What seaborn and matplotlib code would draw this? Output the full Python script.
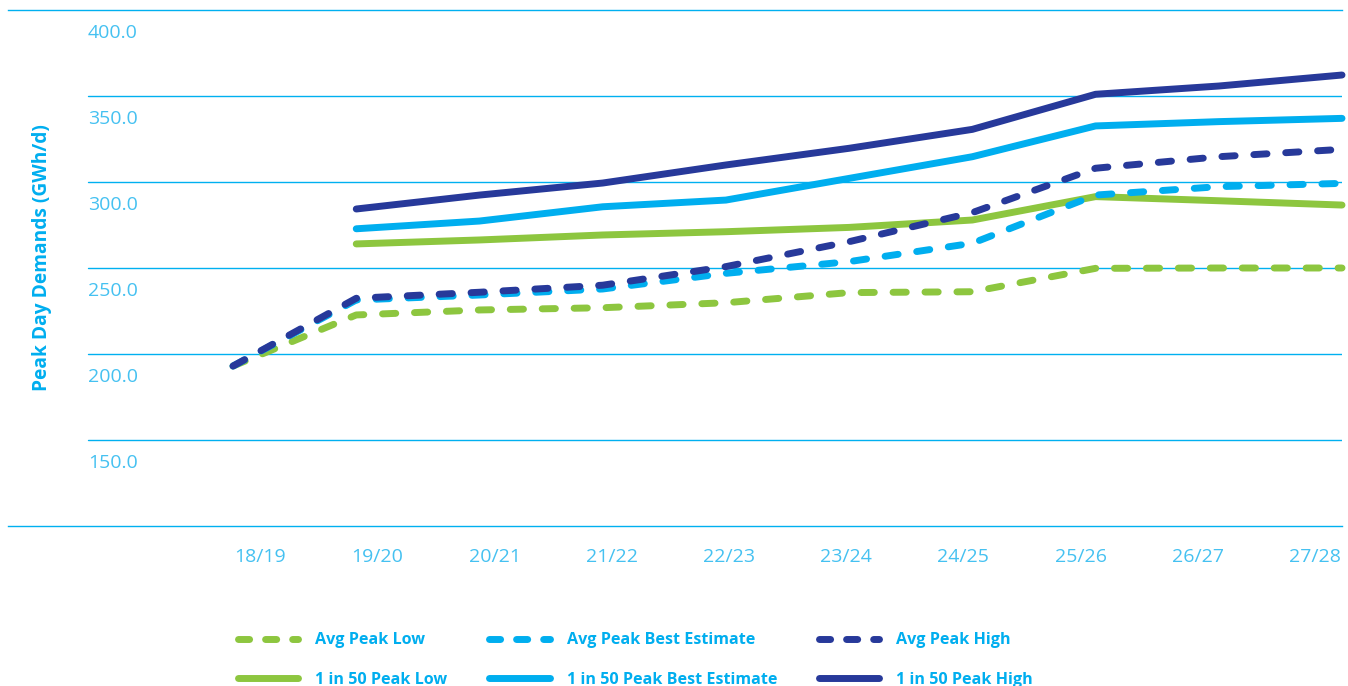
import matplotlib
matplotlib.use("Agg")
import matplotlib.pyplot as plt
import matplotlib.transforms as mtransforms
from matplotlib.lines import Line2D
import seaborn as sns
import numpy as np
import pandas as pd

# data (GWh/d)
years = ["18/19", "19/20", "20/21", "21/22", "22/23", "23/24", "24/25", "25/26", "26/27", "27/28"]
avg_low = [193.0, 222.7, 225.6, 226.9, 229.8, 235.7, 236.2, 249.8, 250.0, 250.0]
avg_best = [193.0, 231.4, 234.3, 237.8, 246.9, 253.7, 264.4, 292.4, 297.3, 299.2]
avg_high = [193.0, 232.4, 235.9, 240.0, 250.8, 265.3, 282.2, 308.0, 314.7, 319.0]
p50_low = [np.nan, 264.0, 266.3, 269.2, 271.1, 273.6, 277.9, 291.5, 289.1, 286.6]
p50_best = [np.nan, 272.8, 277.3, 285.6, 289.5, 302.1, 314.7, 332.6, 335.1, 337.0]
p50_high = [np.nan, 284.3, 292.4, 299.4, 309.9, 319.6, 330.6, 351.0, 355.8, 362.2]

y_ticks = [150, 200, 250, 300, 350, 400]
y_labels = ["150.0", "200.0", "250.0", "300.0", "350.0", "400.0"]

GREEN = "#8DC63F"
LBLUE = "#00AEEF"
NAVY = "#27399A"
GRID = "#00B0F0"
TICK = "#45C1F1"

sns.set_style("white")
plt.rcParams["font.family"] = ["Open Sans", "DejaVu Sans"]

W, H = 1348, 686
fig = plt.figure(figsize=(W / 100, H / 100), dpi=100)
ax = fig.add_axes([8 / W, (H - 526) / H, (1342 - 8) / W, (526 - 10) / H])

# solid series first, dashed on top
series = [
    ("1 in 50 Peak Low", p50_low, GREEN, "-"),
    ("1 in 50 Peak Best Estimate", p50_best, LBLUE, "-"),
    ("1 in 50 Peak High", p50_high, NAVY, "-"),
    ("Avg Peak Low", avg_low, GREEN, (0, (1.9, 2.7))),
    ("Avg Peak Best Estimate", avg_best, LBLUE, (0, (1.9, 2.7))),
    ("Avg Peak High", avg_high, NAVY, (0, (1.9, 2.7))),
]
for name, vals, col, ls in series:
    df = pd.DataFrame({"x": np.arange(len(years)), "y": vals}).dropna()
    sns.lineplot(data=df, x="x", y="y", ax=ax, color=col, lw=5, linestyle=ls,
                 dash_capstyle="round", solid_capstyle="round", clip_on=False)

ax.set_xlim(-(233 - 8) / 123.2, 9)
ax.set_ylim(100, 400)

# grid lines (inner ones start further right)
for v in [150, 200, 250, 300, 350]:
    ax.axhline(v, xmin=80 / 1334, xmax=1, color=GRID, lw=1, zorder=0)
for s in ["left", "right"]:
    ax.spines[s].set_visible(False)
for s in ["top", "bottom"]:
    ax.spines[s].set_color(GRID)
    ax.spines[s].set_linewidth(1)

ax.set_yticks(y_ticks)
ax.set_yticklabels(y_labels, color=TICK, fontsize=14, ha="left")
ax.tick_params(axis="y", length=0, pad=0)
off = mtransforms.ScaledTranslation(0.80, -0.21, fig.dpi_scale_trans)
for lab in ax.get_yticklabels():
    lab.set_transform(lab.get_transform() + off)

ax.set_xticks(np.linspace(0.22, 8.78, len(years)))
ax.set_xticklabels(years, color=TICK, fontsize=14)
ax.tick_params(axis="x", length=0, pad=16)
ax.set_xlabel("")
ax.set_ylabel("")

fig.text(42 / W, 1 - 258 / H, "Peak Day Demands (GWh/d)", rotation=90,
         ha="center", va="center", fontsize=13.8, fontweight="bold", color=LBLUE)

leg_dash = (0, (1.6, 2.3))
handles = [
    Line2D([], [], color=GREEN, lw=5, linestyle=leg_dash, dash_capstyle="round"),
    Line2D([], [], color=GREEN, lw=5, solid_capstyle="round"),
    Line2D([], [], color=LBLUE, lw=5, linestyle=leg_dash, dash_capstyle="round"),
    Line2D([], [], color=LBLUE, lw=5, solid_capstyle="round"),
    Line2D([], [], color=NAVY, lw=5, linestyle=leg_dash, dash_capstyle="round"),
    Line2D([], [], color=NAVY, lw=5, solid_capstyle="round"),
]
labels = ["Avg Peak Low", "1 in 50 Peak Low", "Avg Peak Best Estimate",
          "1 in 50 Peak Best Estimate", "Avg Peak High", "1 in 50 Peak High"]
leg = fig.legend(handles, labels, ncol=3, loc="center left",
                 bbox_to_anchor=(238 / W, 1 - 660 / H), frameon=False,
                 borderpad=0, borderaxespad=0, handlelength=3.75, handletextpad=1.05,
                 columnspacing=2.6, labelspacing=1.45,
                 prop=dict(family="Open Sans", weight="bold", size=11.6))
for t in leg.get_texts():
    t.set_color(LBLUE)

fig.savefig("out.png", dpi=100)
